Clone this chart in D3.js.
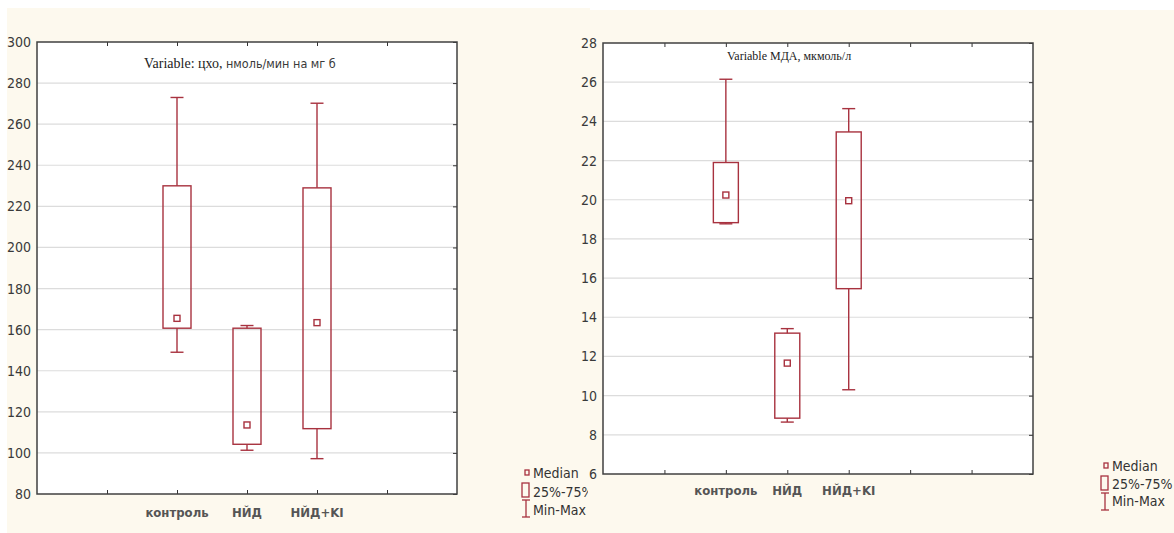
<!DOCTYPE html>
<meta charset="utf-8">
<html>
<head>
<style>
  body { margin: 0; background: #ffffff; }
</style>
<script src="https://d3js.org/d3.v7.min.js"></script>
</head>
<body>
<div id="chart"></div>
<script>
// groups on the x axis
var groups = ["контроль", "НЙД", "НЙД+KI"];

// left panel: цхо, нмоль/мин на мг б
var cxoMin = [149, 101.3, 97.2];
var cxoQ1  = [160.7, 104.2, 111.8];
var cxoMed = [165.5, 113.6, 163.4];
var cxoQ3  = [230, 160.7, 229];
var cxoMax = [273, 162, 270.2];
var cxoTicks = [80, 100, 120, 140, 160, 180, 200, 220, 240, 260, 280, 300];

// right panel: МДА, мкмоль/л
var mdaMin = [18.77, 8.65, 10.3];
var mdaQ1  = [18.83, 8.85, 15.46];
var mdaMed = [20.24, 11.66, 19.95];
var mdaQ3  = [21.9, 13.19, 23.46];
var mdaMax = [26.15, 13.42, 24.65];
var mdaTicks = [6, 8, 10, 12, 14, 16, 18, 20, 22, 24, 26, 28];

var red = "#a8323f";
var narrow = "'DejaVu Sans Condensed', 'Liberation Sans Narrow', 'Arial Narrow', sans-serif";

var svg = d3.select("#chart").append("svg")
  .attr("width", 1174).attr("height", 533);

// cream panels behind the two pictures
svg.append("rect").attr("x", 7).attr("y", 8).attr("width", 583).attr("height", 525).attr("fill", "#fdf9ee");
svg.append("rect").attr("x", 590).attr("y", 10).attr("width", 584).attr("height", 523).attr("fill", "#fdf9ee");

svg.append("clipPath").attr("id", "clipL")
  .append("rect").attr("x", 0).attr("y", 0).attr("width", 588).attr("height", 533);

function drawPanel(o) {
  var g = svg.append("g").attr("clip-path", o.clip ? "url(#" + o.clip + ")" : null);

  var x = d3.scalePoint().domain(o.slots).range([o.left, o.right]).padding(1);
  var y = d3.scaleLinear().domain([o.ticks[0], o.ticks[o.ticks.length - 1]]).range([o.bottom, o.top]);

  g.append("rect")
    .attr("x", o.left).attr("y", o.top)
    .attr("width", o.right - o.left).attr("height", o.bottom - o.top)
    .attr("fill", "#ffffff");

  // grid
  g.selectAll(".grid").data(o.ticks.slice(1, -1)).enter().append("line")
    .attr("x1", o.left).attr("x2", o.right)
    .attr("y1", function(d) { return y(d); }).attr("y2", function(d) { return y(d); })
    .attr("stroke", "#dcdcdc").attr("stroke-width", 1.2);

  // axes with inward ticks
  g.append("g").attr("transform", "translate(" + o.left + ",0)")
    .call(d3.axisLeft(y).tickValues(o.ticks).tickSize(0).tickPadding(6))
    .call(function(a) {
      a.select(".domain").remove();
      a.selectAll("text").style("font-family", narrow).style("font-size", "14px").attr("fill", "#3a3a3a");
    });
  g.append("g").attr("transform", "translate(" + o.right + ",0)")
    .call(d3.axisLeft(y).tickValues(o.ticks).tickSize(4).tickFormat(""))
    .call(function(a) { a.select(".domain").remove(); a.selectAll("line").attr("stroke", "#333"); });
  g.append("g").attr("transform", "translate(0," + o.top + ")")
    .call(d3.axisBottom(x).tickSize(4).tickFormat(""))
    .call(function(a) { a.select(".domain").remove(); a.selectAll("line").attr("stroke", "#333"); });
  g.append("g").attr("transform", "translate(0," + o.bottom + ")")
    .call(d3.axisTop(x).tickSize(4).tickFormat(""))
    .call(function(a) { a.select(".domain").remove(); a.selectAll("line").attr("stroke", "#333"); });

  g.append("rect")
    .attr("x", o.left).attr("y", o.top)
    .attr("width", o.right - o.left).attr("height", o.bottom - o.top)
    .attr("fill", "none").attr("stroke", "#404040").attr("stroke-width", 1.5);

  // category labels
  g.selectAll(".cat").data(groups).enter().append("text")
    .attr("x", function(d) { return x(d); })
    .attr("y", o.labelY)
    .attr("text-anchor", "middle")
    .style("font-family", narrow).style("font-size", "13px").style("font-weight", "bold")
    .attr("fill", "#555")
    .text(function(d) { return d; });

  // boxes
  var bw = o.boxW, cw = 13;
  groups.forEach(function(grp, i) {
    var cx = x(grp);
    var b = g.append("g").attr("stroke", red).attr("stroke-width", 1.4).attr("fill", "none");
    b.append("line").attr("x1", cx).attr("x2", cx).attr("y1", y(o.max[i])).attr("y2", y(o.q3[i]));
    b.append("line").attr("x1", cx).attr("x2", cx).attr("y1", y(o.q1[i])).attr("y2", y(o.min[i]));
    b.append("line").attr("x1", cx - cw / 2).attr("x2", cx + cw / 2).attr("y1", y(o.max[i])).attr("y2", y(o.max[i]));
    b.append("line").attr("x1", cx - cw / 2).attr("x2", cx + cw / 2).attr("y1", y(o.min[i])).attr("y2", y(o.min[i]));
    b.append("rect").attr("x", cx - bw / 2).attr("width", bw)
      .attr("y", y(o.q3[i])).attr("height", y(o.q1[i]) - y(o.q3[i]));
    b.append("rect").attr("x", cx - 3).attr("y", y(o.med[i]) - 3).attr("width", 6).attr("height", 6)
      .attr("fill", "#ffffff");
  });

  // title
  var t = g.append("text").attr("x", o.titleX).attr("y", o.titleY);
  t.append("tspan").style("font-family", "'Liberation Serif', 'DejaVu Serif', serif")
    .style("font-size", o.titleSize + "px").attr("fill", "#222").text(o.title1);
  if (o.title2) {
    t.append("tspan").style("font-family", narrow)
      .style("font-size", "12.5px").attr("fill", "#3a3a3a").text(o.title2);
  }

  // legend
  var lx = o.legX, ly = o.legY;
  var lg = g.append("g");
  lg.append("rect").attr("x", lx + 3).attr("y", ly - 3).attr("width", 4).attr("height", 5)
    .attr("fill", "none").attr("stroke", red).attr("stroke-width", 1.3);
  lg.append("rect").attr("x", lx).attr("y", ly + 10).attr("width", 7).attr("height", 14)
    .attr("fill", "none").attr("stroke", red).attr("stroke-width", 1.3);
  lg.append("line").attr("x1", lx + 4).attr("x2", lx + 4).attr("y1", ly + 27).attr("y2", ly + 44).attr("stroke", red).attr("stroke-width", 1.3);
  lg.append("line").attr("x1", lx).attr("x2", lx + 8).attr("y1", ly + 27).attr("y2", ly + 27).attr("stroke", red).attr("stroke-width", 1.3);
  lg.append("line").attr("x1", lx).attr("x2", lx + 8).attr("y1", ly + 44).attr("y2", ly + 44).attr("stroke", red).attr("stroke-width", 1.3);
  ["Median", "25%-75%", "Min-Max"].forEach(function(s, k) {
    lg.append("text").attr("x", lx + 11).attr("y", ly + 5 + k * o.legStep)
      .style("font-family", narrow).style("font-size", "14px")
      .attr("fill", "#333").text(s);
  });
}

drawPanel({
  slots: ["_a", "контроль", "НЙД", "НЙД+KI", "_b"],
  ticks: cxoTicks, min: cxoMin, q1: cxoQ1, med: cxoMed, q3: cxoQ3, max: cxoMax,
  left: 37, right: 457, top: 42, bottom: 494, labelY: 517, boxW: 28,
  title1: "Variable: цхо, ", title2: "нмоль/мин на мг б", titleX: 144, titleY: 68, titleSize: 14,
  legX: 522, legY: 473, legStep: 18.5, clip: "clipL"
});

drawPanel({
  slots: ["_a", "контроль", "НЙД", "НЙД+KI", "_b", "_c"],
  ticks: mdaTicks, min: mdaMin, q1: mdaQ1, med: mdaMed, q3: mdaQ3, max: mdaMax,
  left: 603, right: 1033, top: 43, bottom: 474, labelY: 495, boxW: 25,
  title1: "Variable МДА, мкмоль/л", title2: null, titleX: 727, titleY: 60, titleSize: 12,
  legX: 1101, legY: 466, legStep: 17.5, clip: null
});
</script>
</body>
</html>
